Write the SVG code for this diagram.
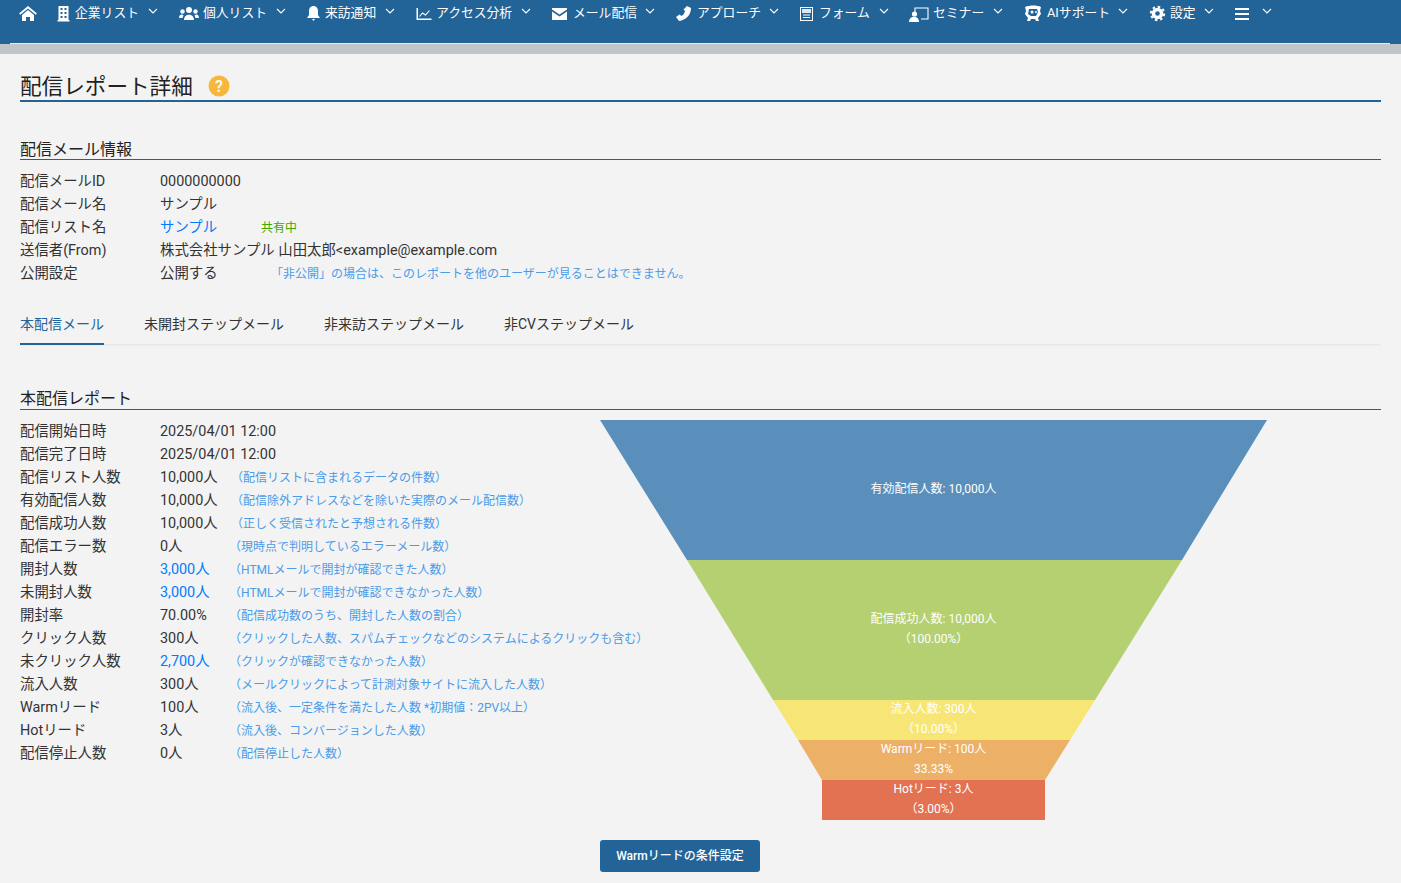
<svg xmlns="http://www.w3.org/2000/svg" width="1401" height="883" viewBox="0 0 1401 883">
<style>
text{font-family:Roboto,"Noto Sans CJK JP",sans-serif;font-size:14.4px;fill:#333}
.n{font-size:12.8px;fill:#fff}
.h1{font-size:21.6px;fill:#222}
.h2{font-size:16px;fill:#222}
.a{fill:#007bff}
.t{font-size:12px;fill:#4a9be8}
.tab{font-size:14px;fill:#333}
.f{font-size:12px;fill:#fff;text-anchor:middle}
.c{fill:none;stroke:#fff;stroke-width:1.1}
.i{fill:#fff}
.b{fill:#236498}
</style>
<rect width="1401" height="883" fill="#f3f3f3"/>
<g id="navbar">
<rect x="0" y="44" width="1401" height="10" fill="#c1c5c9"/>
<rect width="1401" height="44" fill="#236498"/>
<rect x="10" y="43" width="1380" height="1" fill="#e6edf2"/>
<g id="nav-home"><path class="i" d="M28 6l9 7.500-1.300 1.300L28 8.500l-7.700 6.300L19 13.500zM22 15l6-5 6 5v6h-4v-4h-4v4h-4z"/></g>
<g id="nav-company"><path class="i" fill-rule="evenodd" d="M58.500 6h10v14h1v1.500h-12V20h1zM60.500 8v2h2v-2zM64.500 8v2h2v-2zM60.500 12v2h2v-2zM64.500 12v2h2v-2zM60.500 16v2h2v-2zM64.500 16v2h2v-2z"/><text class="n" x="75" y="17">企業リスト</text><path class="c" d="M149 9l4 4 4-4"/></g>
<g id="nav-person"><circle class="i" cx="189" cy="10" r="3"/><circle class="i" cx="182.500" cy="11.500" r="2.200"/><circle class="i" cx="195.500" cy="11.500" r="2.200"/><path class="i" d="M184 20c0-7 10-7 10 0zM179 18c0-4 3-4 4.500-3l-1 3zM199 18c0-4-3-4-4.500-3l1 3z"/><text class="n" x="203" y="17">個人リスト</text><path class="c" d="M277 9l4 4 4-4"/></g>
<g id="nav-visit"><path class="i" d="M313.500 6c3 0 4.500 2.500 4.500 5v4l2 3h-13l2-3v-4c0-2.500 1.500-5 4.500-5zM312 19h3l-1.500 2z"/><text class="n" x="325" y="17">来訪通知</text><path class="c" d="M386 9l4 4 4-4"/></g>
<g id="nav-access"><path class="i" d="M416.500 8h1.500v10.500h13.500V20h-15z"/><path class="c" stroke-width="2" d="M419.500 16.500l3-3.500 3 2 4-4.500"/><text class="n" x="436" y="17">アクセス分析</text><path class="c" d="M522 9l4 4 4-4"/></g>
<g id="nav-mail"><path class="i" d="M552 8h15v1.500l-7.500 5-7.500-5zM552 11.500l7.500 5 7.500-5V20h-15z"/><text class="n" x="573" y="17">メール配信</text><path class="c" d="M646 9l4 4 4-4"/></g>
<g id="nav-approach"><path class="i" d="M687 6l4 2c0 7-5 12-12 13l-3-4 3.500-2.500 2 1.500c2-1 3-3 3.500-5l-1.500-1.500z"/><text class="n" x="697" y="17">アプローチ</text><path class="c" d="M770 9l4 4 4-4"/></g>
<g id="nav-form"><rect x="800.500" y="7.500" width="12" height="13" fill="none" stroke="#fff"/><path class="i" d="M802 9h9v4h-9z" opacity=".85"/><path class="c" d="M803 15h7M803 17.500h7"/><text class="n" x="819" y="17">フォーム</text><path class="c" d="M880 9l4 4 4-4"/></g>
<g id="nav-seminar"><path class="c" stroke-width="1.600" d="M915 12V8h13v11h-7"/><circle class="i" cx="914.500" cy="14" r="2.600"/><path class="i" d="M909 22c0-7 10-7 10 0z"/><text class="n" x="933" y="17">セミナー</text><path class="c" d="M994 9l4 4 4-4"/></g>
<g id="nav-ai"><path class="i" fill-rule="evenodd" d="M1025 7c5-2 12-2 16 0l-1 4 1 3-3 4 1 3h-3l-1-2h-4l-1 2h-3l1-3-3-4 1-3zM1029 9l-1 5 3 2h5l2-4-1-3z"/><circle class="i" cx="1032" cy="12" r="1.500"/><circle class="i" cx="1036" cy="12" r="1"/><text class="n" x="1047" y="17">AIサポート</text><path class="c" d="M1119 9l4 4 4-4"/></g>
<g id="nav-settings"><circle class="i" cx="1157.500" cy="13.500" r="5.800"/><circle cx="1157.500" cy="13.500" r="6.700" fill="none" stroke="#fff" stroke-width="2" stroke-dasharray="2.600 2.660"/><circle class="b" cx="1157.500" cy="13.500" r="2.300"/><text class="n" x="1170" y="17">設定</text><path class="c" d="M1205 9l4 4 4-4"/></g>
<g id="nav-menu"><path class="i" d="M1235 8h14v2h-14zM1235 13h14v2h-14zM1235 18h14v2h-14z"/><path class="c" d="M1263 9l4 4 4-4"/></g>
</g>
<g id="header">
<text class="h1" x="20" y="94">配信レポート詳細</text>
<circle cx="219" cy="86" r="10.500" fill="#f6b73c"/>
<text x="219" y="92" style="font-size:16px;font-weight:700;fill:#f3f3f3" text-anchor="middle">?</text>
<rect x="20" y="100" width="1361" height="2" fill="#236498"/>
</g>
<g id="mail-info">
<text class="h2" x="20" y="155">配信メール情報</text>
<rect x="20" y="159" width="1361" height="1" fill="#2a5f8f"/>
<text x="20" y="186">配信メールID</text><text x="160" y="186">0000000000</text>
<text x="20" y="209">配信メール名</text><text x="160" y="209">サンプル</text>
<text x="20" y="232">配信リスト名</text><text class="a" x="160" y="232">サンプル</text><text x="261" y="232" style="font-size:12px;fill:#3fa600">共有中</text>
<text x="20" y="255">送信者(From)</text><text x="160" y="255">株式会社サンプル 山田太郎&lt;example@example.com</text>
<text x="20" y="278">公開設定</text><text x="160" y="278">公開する</text><text class="t" x="271" y="278">「非公開」の場合は、このレポートを他のユーザーが見ることはできません。</text>
</g>
<g id="tabs">
<rect x="20" y="344" width="1361" height="1.500" fill="#e6e8ea"/>
<rect x="20" y="343" width="84" height="2" fill="#236498"/>
<text class="tab" x="20" y="329" style="fill:#236498">本配信メール</text>
<text class="tab" x="144" y="329">未開封ステップメール</text>
<text class="tab" x="324" y="329">非来訪ステップメール</text>
<text class="tab" x="504" y="329">非CVステップメール</text>
</g>
<g id="report">
<text class="h2" x="20" y="404">本配信レポート</text>
<rect x="20" y="409" width="1361" height="1" fill="#2a5f8f"/>
<text x="20" y="436">配信開始日時</text><text x="160" y="436">2025/04/01 12:00</text>
<text x="20" y="459">配信完了日時</text><text x="160" y="459">2025/04/01 12:00</text>
<text x="20" y="482">配信リスト人数</text><text x="160" y="482">10,000人</text><text class="t" x="231" y="482">（配信リストに含まれるデータの件数）</text>
<text x="20" y="505">有効配信人数</text><text x="160" y="505">10,000人</text><text class="t" x="231" y="505">（配信除外アドレスなどを除いた実際のメール配信数）</text>
<text x="20" y="528">配信成功人数</text><text x="160" y="528">10,000人</text><text class="t" x="231" y="528">（正しく受信されたと予想される件数）</text>
<text x="20" y="551">配信エラー数</text><text x="160" y="551">0人</text><text class="t" x="229" y="551">（現時点で判明しているエラーメール数）</text>
<text x="20" y="574">開封人数</text><text class="a" x="160" y="574">3,000人</text><text class="t" x="229" y="574">（HTMLメールで開封が確認できた人数）</text>
<text x="20" y="597">未開封人数</text><text class="a" x="160" y="597">3,000人</text><text class="t" x="229" y="597">（HTMLメールで開封が確認できなかった人数）</text>
<text x="20" y="620">開封率</text><text x="160" y="620">70.00%</text><text class="t" x="229" y="620">（配信成功数のうち、開封した人数の割合）</text>
<text x="20" y="643">クリック人数</text><text x="160" y="643">300人</text><text class="t" x="229" y="643">（クリックした人数、スパムチェックなどのシステムによるクリックも含む）</text>
<text x="20" y="666">未クリック人数</text><text class="a" x="160" y="666">2,700人</text><text class="t" x="229" y="666">（クリックが確認できなかった人数）</text>
<text x="20" y="689">流入人数</text><text x="160" y="689">300人</text><text class="t" x="229" y="689">（メールクリックによって計測対象サイトに流入した人数）</text>
<text x="20" y="712">Warmリード</text><text x="160" y="712">100人</text><text class="t" x="229" y="712">（流入後、一定条件を満たした人数 *初期値：2PV以上）</text>
<text x="20" y="735">Hotリード</text><text x="160" y="735">3人</text><text class="t" x="229" y="735">（流入後、コンバージョンした人数）</text>
<text x="20" y="758">配信停止人数</text><text x="160" y="758">0人</text><text class="t" x="229" y="758">（配信停止した人数）</text>
</g>
<g id="funnel">
<g id="f1"><polygon points="600,420 1267,420 1182,560 687,560" fill="#5a8fbb"/><text class="f" x="933.500" y="493">有効配信人数: 10,000人</text></g>
<g id="f2"><polygon points="687,560 1182,560 1095,700 773,700" fill="#b5d070"/><text class="f" x="933.500" y="623">配信成功人数: 10,000人</text><text class="f" x="933.500" y="643">（100.00%）</text></g>
<g id="f3"><polygon points="773,700 1095,700 1070,740 798,740" fill="#f7e675"/><text class="f" x="933.500" y="713">流入人数: 300人</text><text class="f" x="933.500" y="733">（10.00%）</text></g>
<g id="f4"><polygon points="798,740 1070,740 1045,780 822,780" fill="#ecb066"/><text class="f" x="933.500" y="753">Warmリード: 100人</text><text class="f" x="933.500" y="773">33.33%</text></g>
<g id="f5"><rect x="822" y="780" width="223" height="40" fill="#e37252"/><text class="f" x="933.500" y="793">Hotリード: 3人</text><text class="f" x="933.500" y="813">（3.00%）</text></g>
</g>
<g id="button">
<rect x="600" y="840" width="160" height="32" rx="3" fill="#236498"/>
<text x="680" y="860" text-anchor="middle" style="font-size:12px;font-weight:500;fill:#fff">Warmリードの条件設定</text>
</g>
</svg>
